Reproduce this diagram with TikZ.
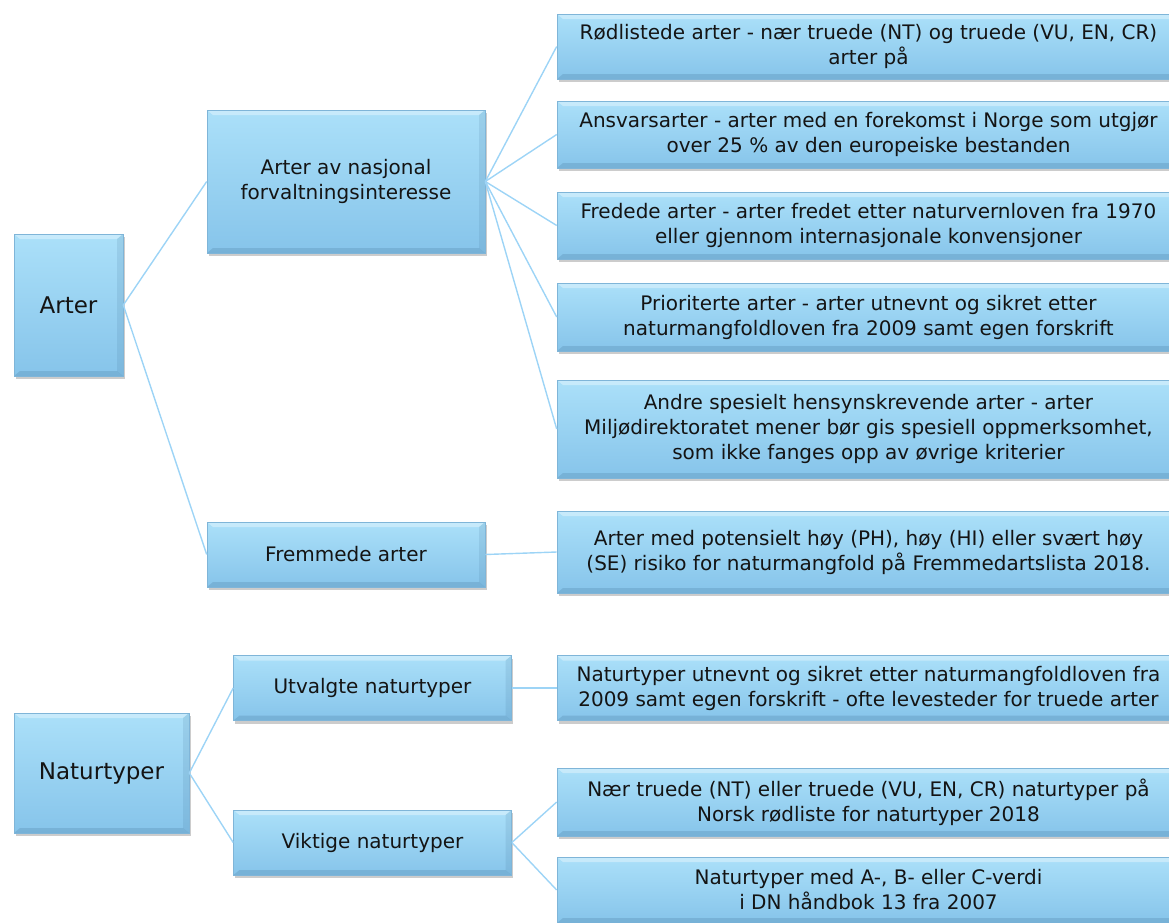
\documentclass[tikz,border=0pt]{standalone}
\usepackage{fontspec}
\setmainfont{DejaVu Sans}
\usetikzlibrary{positioning, shadows}
\definecolor{boxtop}{HTML}{ABE0F9}
\definecolor{boxbot}{HTML}{86C4EA}
\definecolor{boxedge}{HTML}{7FB5D8}
\definecolor{bevel}{HTML}{3F6F94}
\definecolor{linkblue}{HTML}{9DD4F6}

\begin{document}
\begin{tikzpicture}[
    x=1pt, y=-1pt,
    box/.style={rectangle, draw=boxedge, line width=0.6pt, top color=boxtop, bottom color=boxbot,
        align=center, inner sep=0pt, text=black!92, font=\fontsize{20}{25}\selectfont,
        drop shadow={shadow xshift=1.5pt, shadow yshift=-3pt, opacity=0.4},
        path picture={
            \fill[white, opacity=0.35] (path picture bounding box.north west) -- (path picture bounding box.north east)
                -- ([xshift=-6pt, yshift=-5pt]path picture bounding box.north east) -- ([xshift=6pt, yshift=-5pt]path picture bounding box.north west) -- cycle;
            \fill[bevel, opacity=0.22] (path picture bounding box.south west) -- (path picture bounding box.south east)
                -- ([xshift=-6pt, yshift=5pt]path picture bounding box.south east) -- ([xshift=6pt, yshift=5pt]path picture bounding box.south west) -- cycle;
            \fill[bevel, opacity=0.14] (path picture bounding box.north east) -- (path picture bounding box.south east)
                -- ([xshift=-6pt, yshift=5pt]path picture bounding box.south east) -- ([xshift=-6pt, yshift=-5pt]path picture bounding box.north east) -- cycle;
        }},
    mainbox/.style={box, font=\fontsize{23}{28}\selectfont},
    midbox/.style={box, minimum width=278pt},
    leafbox/.style={box, minimum width=623pt},
    link/.style={draw=linkblue, line width=1.4pt}
]
    \useasboundingbox (0,0) rectangle (1169,922);

    % left column
    \node[mainbox, minimum width=109pt, minimum height=142pt] (arter) at (68.5,305) {Arter};
    \node[mainbox, minimum width=175pt, minimum height=120pt] (natur) at (101.5,773) {Naturtyper};

    % middle column
    \node[midbox, minimum height=143pt] (nasjonal) at (346,181.5) {Arter av nasjonal\\forvaltningsinteresse};
    \node[midbox, minimum height=65pt] (fremmede) at (346,554.5) {Fremmede arter};
    \node[midbox, minimum height=65pt] (utvalgte) at (372.5,688) {Utvalgte naturtyper};
    \node[midbox, minimum height=65pt] (viktige) at (372.5,842.5) {Viktige naturtyper};

    % right column
    \node[leafbox, minimum height=65pt] (rodliste) at (868.5,46.5) {R\o dlistede arter - n\ae r truede (NT) og truede (VU, EN, CR)\\arter p\aa};
    \node[leafbox, minimum height=67pt] (ansvar) at (868.5,134.5) {Ansvarsarter - arter med en forekomst i Norge som utgj\o r\\over 25 \% av den europeiske bestanden};
    \node[leafbox, minimum height=67pt] (fredede) at (868.5,225.5) {Fredede arter - arter fredet etter naturvernloven fra 1970\\eller gjennom internasjonale konvensjoner};
    \node[leafbox, minimum height=68pt] (prioritert) at (868.5,317) {Prioriterte arter - arter utnevnt og sikret etter\\naturmangfoldloven fra 2009 samt egen forskrift};
    \node[leafbox, minimum height=98pt] (andre) at (868.5,429) {Andre spesielt hensynskrevende arter - arter\\Milj\o direktoratet mener b\o r gis spesiell oppmerksomhet,\\som ikke fanges opp av \o vrige kriterier};
    \node[leafbox, minimum height=82pt] (risiko) at (868.5,552) {Arter med potensielt h\o y (PH), h\o y (HI) eller sv\ae rt h\o y\\(SE) risiko for naturmangfold p\aa{} Fremmedartslista 2018.};
    \node[leafbox, minimum height=65pt] (utnevnt) at (868.5,688) {Naturtyper utnevnt og sikret etter naturmangfoldloven fra\\2009 samt egen forskrift - ofte levesteder for truede arter};
    \node[leafbox, minimum height=68pt] (naertruede) at (868.5,802) {N\ae r truede (NT) eller truede (VU, EN, CR) naturtyper p\aa\\Norsk r\o dliste for naturtyper 2018};
    \node[leafbox, minimum height=66pt] (verdi) at (868.5,890) {Naturtyper med A-, B- eller C-verdi\\i DN h\aa ndbok 13 fra 2007};

    % connectors
    \draw[link] (arter.east) -- (nasjonal.west);
    \draw[link] (arter.east) -- (fremmede.west);
    \draw[link] (natur.east) -- (utvalgte.west);
    \draw[link] (natur.east) -- (viktige.west);
    \foreach \leaf in {rodliste, ansvar, fredede, prioritert, andre}
        \draw[link] (nasjonal.east) -- (\leaf.west);
    \draw[link] (fremmede.east) -- (risiko.west);
    \draw[link] (utvalgte.east) -- (utnevnt.west);
    \draw[link] (viktige.east) -- (naertruede.west);
    \draw[link] (viktige.east) -- (verdi.west);
\end{tikzpicture}
\end{document}
